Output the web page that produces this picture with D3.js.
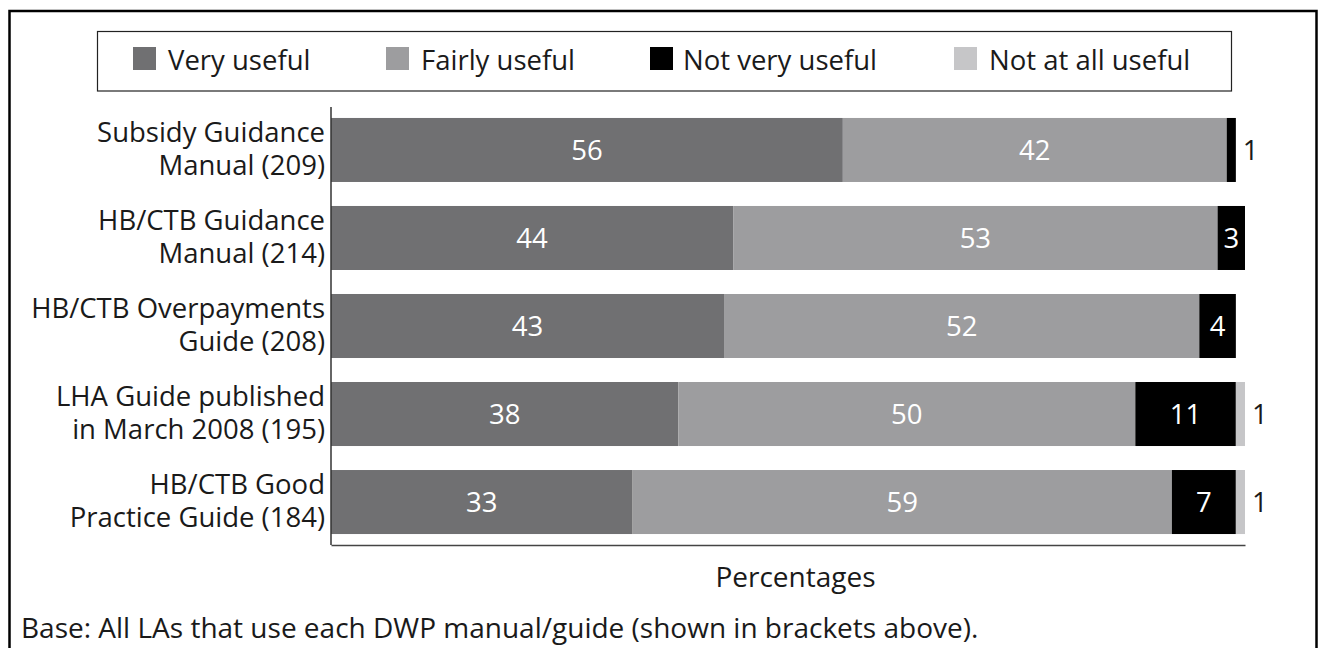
<!DOCTYPE html>
<html>
<head>
<meta charset="utf-8">
<script src="https://cdn.jsdelivr.net/npm/d3@7"></script>
<style>
  html, body { margin: 0; padding: 0; background: #fff; }
  svg { display: block; }
  text { font-family: "Open Sans", "Lato", sans-serif; fill: #1a1a1a; }
</style>
</head>
<body>
<svg id="chart" width="1319" height="648"></svg>
<script>
// ---- data ----
const categories = [
  "Subsidy Guidance|Manual (209)",
  "HB/CTB Guidance|Manual (214)",
  "HB/CTB Overpayments|Guide (208)",
  "LHA Guide published|in March 2008 (195)",
  "HB/CTB Good|Practice Guide (184)"
];
const seriesNames = ["Very useful", "Fairly useful", "Not very useful", "Not at all useful"];
const veryUseful     = [56, 44, 43, 38, 33];
const fairlyUseful   = [42, 53, 52, 50, 59];
const notVeryUseful  = [1, 3, 4, 11, 7];
const notAtAllUseful = [0, 0, 0, 1, 1];
const seriesColors = ["#707072", "#9d9d9f", "#000000", "#c6c6c8"];
const axisTitle = "Percentages";
const baseNote = "Base: All LAs that use each DWP manual/guide (shown in brackets above).";

// ---- build table ----
const keys = ["v", "f", "n", "a"];
const rows = categories.map((c, i) => ({
  cat: c, v: veryUseful[i], f: fairlyUseful[i], n: notVeryUseful[i], a: notAtAllUseful[i]
}));
const stacked = d3.stack().keys(keys)(rows);

const svg = d3.select("#chart");
const FS = 27.5;

// outer frame
svg.append("rect").attr("x", 9.5).attr("y", 11).attr("width", 1307).attr("height", 660)
  .attr("fill", "none").attr("stroke", "#000").attr("stroke-width", 2.5);

// scales
const x = d3.scaleLinear().domain([0, 100]).range([331, 1245]);
const y = d3.scaleBand().domain(categories).range([106, 546]).paddingInner(0.2727).paddingOuter(0.136);
const color = d3.scaleOrdinal().domain(keys).range(seriesColors);

// bars
const g = svg.append("g");
stacked.forEach(layer => {
  g.selectAll(null).data(layer).enter().append("rect")
    .attr("x", d => x(d[0]))
    .attr("y", d => y(d.data.cat))
    .attr("width", d => x(d[1]) - x(d[0]))
    .attr("height", y.bandwidth())
    .attr("fill", color(layer.key));
});

// value labels
stacked.forEach(layer => {
  layer.forEach(d => {
    const val = d[1] - d[0];
    if (val <= 0) return;
    const cy = y(d.data.cat) + y.bandwidth() / 2;
    if (val >= 2) {
      svg.append("text")
        .attr("x", (x(d[0]) + x(d[1])) / 2).attr("y", cy)
        .attr("dy", "0.35em").attr("text-anchor", "middle")
        .attr("font-size", FS).style("fill", "#ffffff")
        .text(val);
    } else {
      const total = keys.reduce((s, k) => s + d.data[k], 0);
      svg.append("text")
        .attr("x", x(total) + 7).attr("y", cy)
        .attr("dy", "0.35em").attr("text-anchor", "start")
        .attr("font-size", FS)
        .text(val);
    }
  });
});

// axes (no ticks)
const yAxis = d3.axisLeft(y).tickSize(0).tickFormat("");
svg.append("g").attr("transform", "translate(331,0)").call(yAxis)
  .call(s => s.select(".domain").attr("d", "M0,107V545").attr("stroke", "#333").attr("stroke-width", 1.5));
const xAxis = d3.axisBottom(x).tickSize(0).tickValues([]);
svg.append("g").attr("transform", "translate(0,545)").call(xAxis)
  .call(s => s.select(".domain").attr("stroke", "#444").attr("stroke-width", 1.5));

// category labels
categories.forEach(c => {
  const lines = c.split("|");
  const cy = y(c) + y.bandwidth() / 2;
  const t = svg.append("text").attr("text-anchor", "end").attr("font-size", FS);
  t.append("tspan").attr("x", 325).attr("y", cy - 8).text(lines[0]);
  t.append("tspan").attr("x", 325).attr("y", cy + 25).text(lines[1]);
});

// legend
svg.append("rect").attr("x", 97.5).attr("y", 31.5).attr("width", 1134).attr("height", 59.5)
  .attr("fill", "none").attr("stroke", "#222").attr("stroke-width", 1.2);
const legSq = [133, 386, 650, 954];
const legTx = [168, 421, 683, 989];
seriesNames.forEach((nm, i) => {
  svg.append("rect").attr("x", legSq[i]).attr("y", 47).attr("width", 23).attr("height", 23)
    .attr("fill", seriesColors[i]);
  svg.append("text").attr("x", legTx[i]).attr("y", 70).attr("font-size", FS).text(nm);
});

// axis title & base note
svg.append("text").attr("x", 795.5).attr("y", 587).attr("text-anchor", "middle")
  .attr("font-size", 28).text(axisTitle);
svg.append("text").attr("x", 21).attr("y", 638).attr("font-size", 28).text(baseNote);
</script>
</body>
</html>
